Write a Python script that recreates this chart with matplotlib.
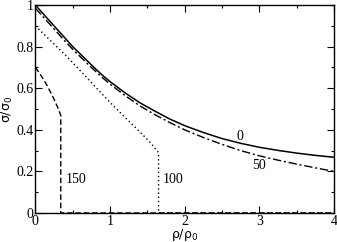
import numpy as np
from matplotlib import pyplot as plt
from matplotlib.ticker import MultipleLocator

# curves, labelled by the number next to them
x0 = [0, 0.1, 0.2, 0.3, 0.4, 0.5, 0.6, 0.7, 0.8, 0.9, 1.0, 1.2, 1.4, 1.6, 1.8,
      2.0, 2.25, 2.5, 2.75, 3.0, 3.25, 3.5, 3.75, 4.0]
y0 = [1.0, 0.96, 0.92, 0.88, 0.84, 0.80, 0.765, 0.73, 0.695, 0.662, 0.632, 0.578,
      0.53, 0.49, 0.452, 0.42, 0.387, 0.358, 0.335, 0.316, 0.301, 0.288, 0.277, 0.268]

x50 = [0, 0.1, 0.2, 0.3, 0.4, 0.5, 0.6, 0.7, 0.8, 0.9, 1.0, 1.2, 1.4, 1.6, 1.8,
       2.0, 2.25, 2.5, 2.75, 3.0, 3.25, 3.5, 3.75, 4.0]
y50 = [0.985, 0.945, 0.905, 0.865, 0.825, 0.787, 0.752, 0.717, 0.683, 0.65, 0.62, 0.565,
       0.515, 0.473, 0.435, 0.40, 0.363, 0.33, 0.30, 0.275, 0.254, 0.235, 0.217, 0.20]

x100 = [0, 0.2, 0.4, 0.6, 0.8, 1.0, 1.2, 1.4, 1.55, 1.65, 1.65, 4.0]
y100 = [0.90, 0.83, 0.76, 0.685, 0.608, 0.532, 0.46, 0.39, 0.335, 0.29, 0.0, 0.0]

x150 = [0, 0.05, 0.1, 0.15, 0.2, 0.25, 0.3, 0.34, 0.34, 4.0]
y150 = [0.70, 0.675, 0.647, 0.617, 0.583, 0.547, 0.507, 0.47, 0.0, 0.0]

labels = ['0', '50', '100', '150']
label_pos = [(2.74, 0.37), (2.99, 0.23), (1.85, 0.16), (0.55, 0.16)]

serif = 'Liberation Serif'

fig = plt.figure(figsize=(3.37, 2.42), dpi=100)
ax = fig.add_axes([0.105, 0.12, 0.886, 0.859])

ax.plot(x0, y0, color='black', lw=1.1, ls='-')
ax.plot(x50, y50, color='black', lw=1.0, ls=(0, (6, 2, 1.5, 2)))
ax.plot(x100, y100, color='black', lw=1.0, ls=(0, (1, 2)))
ax.plot(x150, y150, color='black', lw=1.0, ls=(0, (4, 2)))

for lab, (tx, ty) in zip(labels, label_pos):
    ax.text(tx, ty, lab, fontsize=10, family=serif, ha='center', va='center')

ax.set_xlim(0, 4)
ax.set_ylim(0, 1)
ax.xaxis.set_major_locator(MultipleLocator(1))
ax.xaxis.set_minor_locator(MultipleLocator(0.5))
ax.yaxis.set_major_locator(MultipleLocator(0.2))
ax.yaxis.set_minor_locator(MultipleLocator(0.1))
ax.tick_params(which='both', direction='in', top=True, right=True, width=0.8)
ax.tick_params(which='major', length=5, labelsize=10, pad=1.5)
ax.tick_params(which='minor', length=2.5)
ax.set_yticks([0, 0.2, 0.4, 0.6, 0.8, 1.0])
ax.set_yticklabels(['0', '0.2', '0.4', '0.6', '0.8', '1'])
for t in ax.get_xticklabels() + ax.get_yticklabels():
    t.set_family(serif)
for s in ax.spines.values():
    s.set_linewidth(1.0)

ax.set_xlabel(r'$\mathregular{\rho/\rho_0}$', fontsize=9, labelpad=-1)
ax.set_ylabel(r'$\mathregular{\sigma/\sigma_0}$', fontsize=9, labelpad=1)

fig.savefig('out.png', dpi=100)
